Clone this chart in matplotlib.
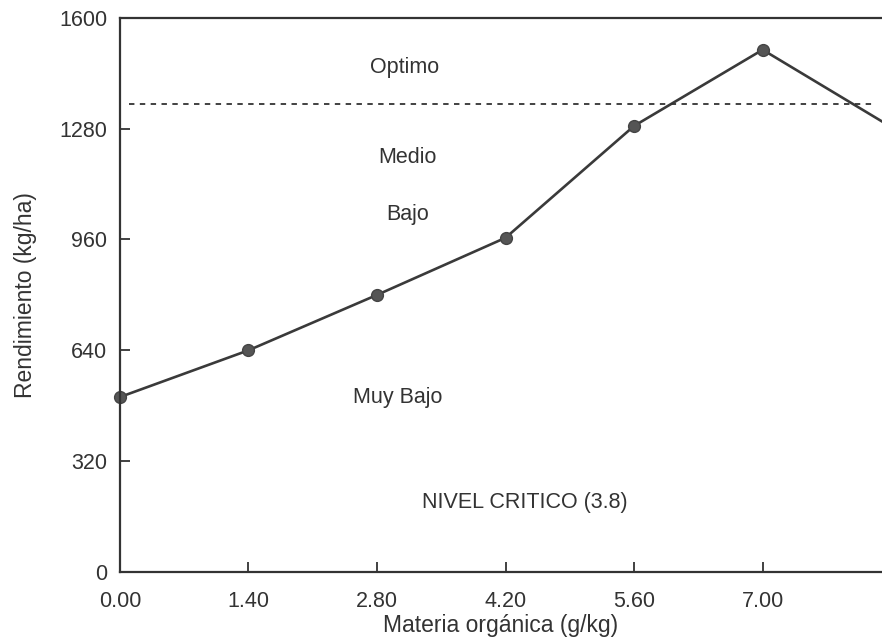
import matplotlib
matplotlib.use("Agg")
import matplotlib.pyplot as plt

# materia organica (g/kg) vs rendimiento (kg/ha)
materia = [0.0, 1.4, 2.8, 4.2, 5.6, 7.0, 8.4]
rendimiento = [505, 640, 800, 965, 1288, 1508, 1285]
nivel_optimo = 1350

xticks = [0.0, 1.4, 2.8, 4.2, 5.6, 7.0]
yticks = [0, 320, 640, 960, 1280, 1600]

plt.rcParams['font.family'] = ['Liberation Sans', 'DejaVu Sans']
tinta = '#333333'

fig = plt.figure(figsize=(8.82, 6.39), dpi=100)
ax = fig.add_axes([0.136, 0.105, 0.864, 0.867])

ax.plot(materia, rendimiento, color='#3a3a3a', lw=1.9, marker='o', ms=8.5,
        mfc='#555555', mec='#444444', clip_on=False)
ax.plot([0.1, 8.2], [nivel_optimo, nivel_optimo], ls=(0, (3, 3)), color=tinta, lw=1.3)

etiquetas = [
    (3.10, 1456, 'Optimo'),
    (3.13, 1196, 'Medio'),
    (3.13, 1031, 'Bajo'),
    (3.02, 503, 'Muy Bajo'),
    (4.41, 199, 'NIVEL CRITICO (3.8)'),
]
for x, y, t in etiquetas:
    ax.text(x, y, t, ha='center', va='center', fontsize=15.5, color=tinta)

ax.set_xlim(0, 8.3)
ax.set_ylim(0, 1600)
ax.set_xticks(xticks)
ax.set_xticklabels(['%.2f' % v for v in xticks])
ax.set_yticks(yticks)
ax.tick_params(direction='in', length=7, width=1.3, color=tinta,
               labelsize=15.5, labelcolor=tinta)
ax.tick_params(axis='x', pad=14)
ax.tick_params(axis='y', pad=9)

for lado in ['left', 'bottom', 'top']:
    ax.spines[lado].set_linewidth(1.6)
    ax.spines[lado].set_color(tinta)
ax.spines['right'].set_visible(False)

ax.set_xlabel('Materia orgánica (g/kg)', fontsize=16.5, color=tinta, labelpad=1)
ax.set_ylabel('Rendimiento (kg/ha)', fontsize=16.5, color=tinta, labelpad=16)

fig.savefig('out.png', dpi=100)
